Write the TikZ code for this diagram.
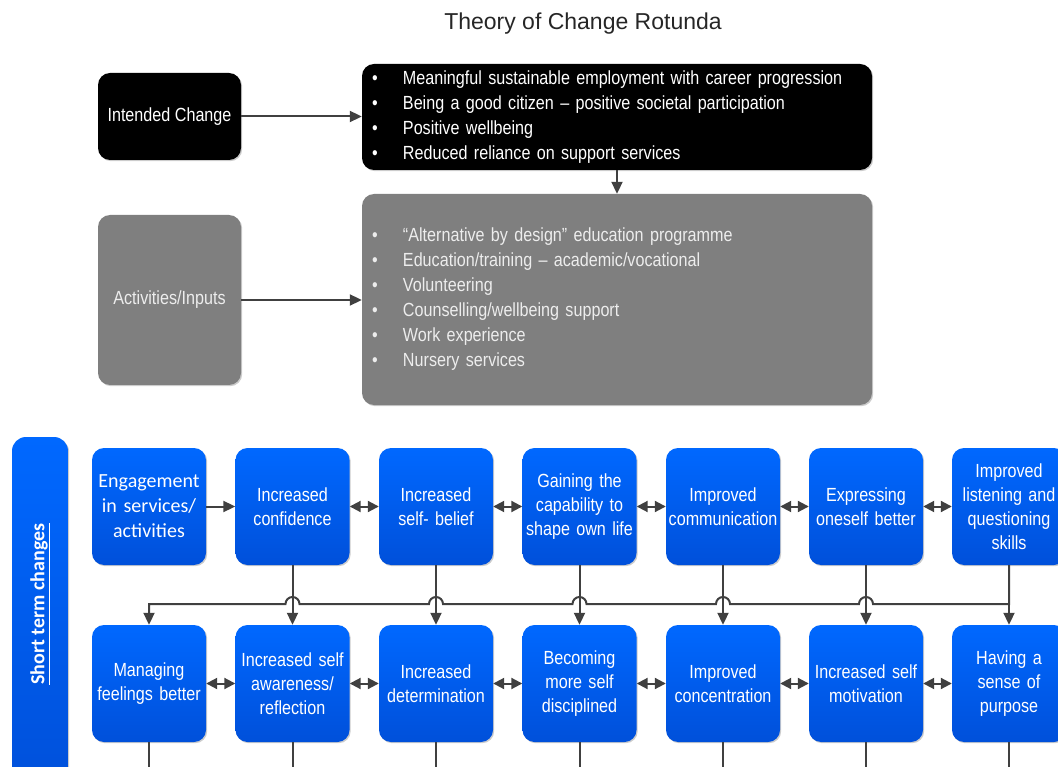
\documentclass[tikz,border=0pt]{standalone}
\usepackage{fontspec}
\setmainfont{Liberation Sans}[FakeStretch=0.85]
\newfontfamily\titlefont{Liberation Sans}
\newfontfamily\calfont{Carlito}
\usetikzlibrary{arrows.meta,calc,shadows}
\definecolor{arrowgray}{HTML}{404040}
\definecolor{boxgray}{HTML}{7F7F7F}
\definecolor{bluetop}{HTML}{0068FF}
\definecolor{bluebot}{HTML}{0050DA}
\newcommand{\bitem}[1]{\makebox[31pt][l]{\textbullet}#1}
\begin{document}
\begin{tikzpicture}[x=1pt,y=-1pt,
  conn/.style={draw=arrowgray, line width=2pt, -{Triangle[length=12pt,width=11pt]}},
  dconn/.style={draw=arrowgray, line width=2pt, {Triangle[length=11pt,width=11pt]}-{Triangle[length=11pt,width=11pt]}},
  plainline/.style={draw=arrowgray, line width=2pt},
  shad/.style={drop shadow={shadow xshift=1.2pt, shadow yshift=-1.2pt, opacity=0.2, fill=black}},
  blackbox/.style={shad, rounded corners=12pt, fill=black, text=white, inner sep=0pt, font=\fontsize{19}{25}\selectfont},
  graybox/.style={shad, rounded corners=12pt, fill=boxgray, text=white!93!black, inner sep=0pt, font=\fontsize{19}{25}\selectfont},
  change/.style={shad, rounded corners=12pt, top color=bluetop, bottom color=bluebot, draw=none,
    minimum width=114pt, minimum height=117pt, text width=112pt, align=center, text=white,
    font=\fontsize{19}{24}\selectfont, inner sep=0pt},
  sidebar/.style={shad, rounded corners=14pt, top color=bluetop, bottom color=bluebot, draw=none,
    minimum width=56pt, minimum height=353pt, inner sep=0pt},
  titletext/.style={font=\titlefont\fontsize{23}{27}\selectfont, text=black!85, inner sep=0pt},
]
\useasboundingbox (0,0) rectangle (1058,767);
\clip (0,0) rectangle (1058,767);

\node[titletext] (title) at (583,24) {Theory of Change Rotunda};

% Intended change
\node[blackbox, minimum width=143pt, minimum height=87pt] (ic) at (169.5,116.5) {Intended Change};
\node[blackbox, minimum width=510pt, minimum height=106pt, text width=490pt, align=left] (icl) at (617,117)
  {\bitem{Meaningful sustainable employment with career progression}\\
   \bitem{Being a good citizen – positive societal participation}\\
   \bitem{Positive wellbeing}\\
   \bitem{Reduced reliance on support services}};

% Activities
\node[graybox, minimum width=143pt, minimum height=170pt] (ai) at (169.5,300) {Activities/Inputs};
\node[graybox, minimum width=510pt, minimum height=211pt, text width=490pt, align=left] (gl) at (617,299.5)
  {\bitem{“Alternative by design” education programme}\\
   \bitem{Education/training – academic/vocational}\\
   \bitem{Volunteering}\\
   \bitem{Counselling/wellbeing support}\\
   \bitem{Work experience}\\
   \bitem{Nursery services}};

\draw[conn] (ic.east) -- (ic.east -| icl.west);
\draw[conn] (icl.south) -- (gl.north);
\draw[conn] (ai.east) -- (ai.east -| gl.west);

% side bar
\node[sidebar] (stc) at (40,613.5) {};
\node[rotate=90, text=white, font=\calfont\bfseries\fontsize{20}{24}\selectfont, inner sep=0pt] (stct) at (40,604) {\underline{Short term changes}};

% top row
\node[change, font=\calfont\fontsize{20}{25}\selectfont] (t1) at (149,506.5) {Engagement\\in services/\\activities};
\node[change] (t2) at (292.5,506.5) {Increased\\confidence};
\node[change] (t3) at (436,506.5) {Increased\\self- belief};
\node[change] (t4) at (579.5,506.5) {Gaining the\\capability to\\shape own life};
\node[change] (t5) at (723,506.5) {Improved\\communication};
\node[change] (t6) at (866,506.5) {Expressing\\oneself better};
\node[change] (t7) at (1009,506.5) {Improved\\listening and\\questioning\\skills};

% bottom row
\node[change] (b1) at (149,683.5) {Managing\\feelings better};
\node[change] (b2) at (292.5,683.5) {Increased self\\awareness/\\reflection};
\node[change] (b3) at (436,683.5) {Increased\\determination};
\node[change] (b4) at (579.5,683.5) {Becoming\\more self\\disciplined};
\node[change] (b5) at (723,683.5) {Improved\\concentration};
\node[change] (b6) at (866,683.5) {Increased self\\motivation};
\node[change] (b7) at (1009,683.5) {Having a\\sense of\\purpose};

% horizontal links
\draw[conn] (t1.east) -- (t2.west);
\draw[dconn] (t2.east) -- (t3.west);
\draw[dconn] (t3.east) -- (t4.west);
\draw[dconn] (t4.east) -- (t5.west);
\draw[dconn] (t5.east) -- (t6.west);
\draw[dconn] (t6.east) -- (t7.west);
\draw[dconn] (b1.east) -- (b2.west);
\draw[dconn] (b2.east) -- (b3.west);
\draw[dconn] (b3.east) -- (b4.west);
\draw[dconn] (b4.east) -- (b5.west);
\draw[dconn] (b5.east) -- (b6.west);
\draw[dconn] (b6.east) -- (b7.west);

% vertical links
\coordinate (bus) at (0,604);
\coordinate (bot) at (0,775);
\foreach \i in {2,...,7} {
  \draw[conn] (t\i.south) -- (b\i.north);
  \draw[plainline] (b\i.south) -- (b\i.south |- bot);
}
\draw[plainline] (b1.south) -- (b1.south |- bot);
\draw[conn] (t7.south) -- (t7.south |- bus)
  -- ($(t6.south |- bus)+(7,0)$) arc[start angle=0, end angle=-180, radius=7]
  -- ($(t5.south |- bus)+(7,0)$) arc[start angle=0, end angle=-180, radius=7]
  -- ($(t4.south |- bus)+(7,0)$) arc[start angle=0, end angle=-180, radius=7]
  -- ($(t3.south |- bus)+(7,0)$) arc[start angle=0, end angle=-180, radius=7]
  -- ($(t2.south |- bus)+(7,0)$) arc[start angle=0, end angle=-180, radius=7]
  -- (b1.north |- bus) -- (b1.north);
\end{tikzpicture}
\end{document}
